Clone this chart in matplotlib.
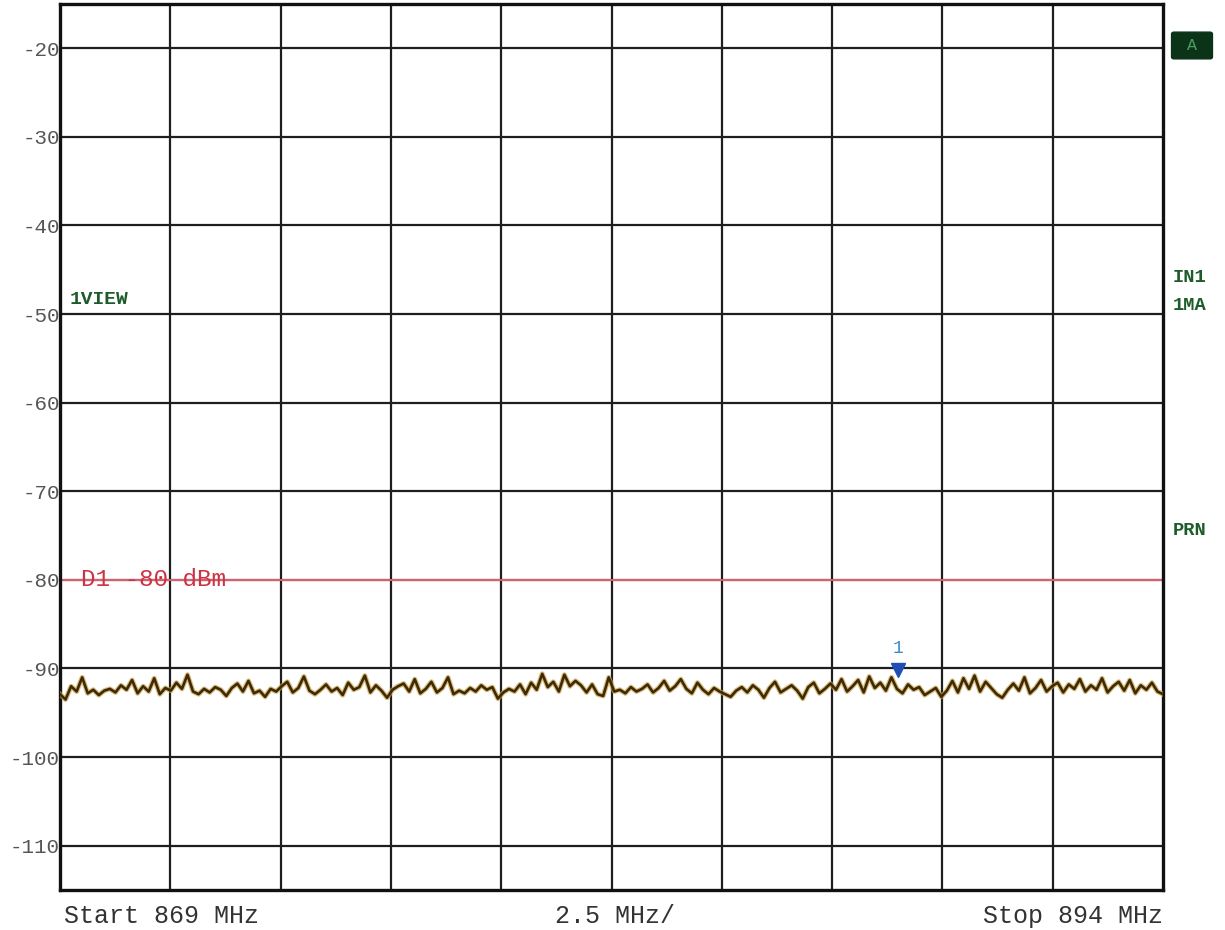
import matplotlib
matplotlib.use("Agg")
import matplotlib.pyplot as plt
import numpy as np
from matplotlib.patches import FancyBboxPatch

# ---- data ----
start_mhz = 869.0
stop_mhz = 894.0
y_ticks = [-20, -30, -40, -50, -60, -70, -80, -90, -100, -110]
ref_top = -15
ref_bottom = -115
display_line_dbm = -80
display_line_label = "D1 -80 dBm"
marker_freq = [888.0]
marker_level = [-90.2]
marker_label = "1"

trace = [
    -92.9, -93.5, -92.0, -92.6, -91.0, -92.8, -92.4, -93.0, -92.5, -92.3, -92.7, -91.9, -92.4, -91.3, -92.8, -92.0, -92.6, -91.1, -92.9, -92.2,
    -92.5, -91.6, -92.3, -90.7, -92.6, -92.9, -92.3, -92.7, -92.1, -92.4, -93.1, -92.2, -91.7, -92.6, -91.4, -92.8, -92.5, -93.2, -92.3, -92.6,
    -92.0, -91.5, -92.7, -92.2, -90.9, -92.5, -92.9, -92.4, -91.8, -92.6, -92.2, -93.0, -91.6, -92.4, -92.1, -90.8, -92.7, -91.9, -92.5, -93.3,
    -92.4, -92.0, -91.7, -92.6, -91.2, -92.8, -92.3, -91.5, -92.7, -92.2, -91.0, -92.9, -92.5, -92.8, -92.2, -92.6, -91.9, -92.4, -92.1, -93.4,
    -92.7, -92.3, -92.6, -91.8, -92.9, -91.6, -92.4, -90.6, -92.1, -91.5, -92.6, -90.7, -92.0, -91.4, -91.9, -92.7, -91.8, -92.9, -93.1, -91.0,
    -92.6, -92.4, -92.8, -92.1, -92.6, -92.3, -91.8, -92.7, -92.2, -91.4, -92.5, -92.0, -91.2, -92.3, -92.8, -91.6, -92.4, -92.9, -92.2, -92.6,
    -92.9, -93.2, -92.5, -92.1, -92.7, -91.9, -92.4, -93.3, -92.2, -91.5, -92.7, -92.3, -91.9, -92.5, -93.4, -92.1, -91.6, -92.8, -92.3, -91.7,
    -92.4, -91.2, -92.6, -92.0, -91.3, -92.7, -90.9, -92.2, -91.6, -92.5, -91.0, -92.3, -92.8, -91.8, -92.4, -92.1, -93.0, -92.6, -92.2, -93.2,
    -92.5, -91.4, -92.7, -91.1, -92.3, -90.8, -92.6, -91.5, -92.2, -92.9, -93.3, -92.4, -91.7, -92.5, -91.0, -92.8, -92.2, -91.3, -92.6, -92.0,
    -91.6, -92.7, -91.8, -92.3, -91.2, -92.6, -91.9, -92.4, -91.1, -92.7, -92.0, -91.5, -92.5, -91.3, -92.8, -91.9, -92.4, -91.6, -92.6, -92.9,
]
freqs = np.linspace(start_mhz, stop_mhz, len(trace))

# ---- figure ----
W, H = 1225, 930
fig = plt.figure(figsize=(W / 100, H / 100), dpi=100)
fig.patch.set_facecolor("white")
ax = fig.add_axes([60 / W, 1 - 890 / H, (1163 - 60) / W, (890 - 4) / H])
ax.set_xlim(start_mhz, stop_mhz)
ax.set_ylim(ref_bottom, ref_top)

mono = "Liberation Mono"
grid_col = "#1e1e1e"

# grid
for f in np.arange(start_mhz + 2.5, stop_mhz - 0.1, 2.5):
    ax.axvline(f, color=grid_col, lw=1.6, zorder=1)
for y in y_ticks:
    ax.axhline(y, color=grid_col, lw=1.6, zorder=1)

for s in ax.spines.values():
    s.set_linewidth(2.4)
    s.set_color("#111111")

ax.set_xticks([])
ax.set_yticks(y_ticks)
ax.set_yticklabels([str(v) for v in y_ticks], fontfamily=mono, fontsize=15, color="#555555")
ax.tick_params(axis="y", length=0, pad=0)

# display line
ax.axhline(display_line_dbm, color="#e06070", lw=1.4, zorder=2)
ax.text(0.019, display_line_dbm, display_line_label, transform=ax.get_yaxis_transform(),
        fontfamily=mono, fontsize=17.5, color="#cc3344", va="center", ha="left", zorder=3)

# trace
ax.plot(freqs, trace, color="#c9a24a", lw=3.6, alpha=0.7, zorder=4)
ax.plot(freqs, trace, color="#3f2a05", lw=1.9, zorder=5)

# marker
ax.plot(marker_freq, marker_level, marker="v", color="#1f4fb5", markersize=10, ls="none", zorder=6)
ax.text(marker_freq[0], marker_level[0] + 1.5, marker_label, color="#3a8ad0", fontfamily=mono,
        fontsize=13, ha="center", va="bottom", zorder=6)

# in-plot label
ax.text(0.009, 0.667, "1VIEW", transform=ax.transAxes, fontfamily=mono, fontsize=14,
        fontweight="bold", color="#1d5c2a", va="center", ha="left")

# right labels
box = FancyBboxPatch((1174 / W, 1 - 57 / H), 36 / W, 23 / H, boxstyle="round,pad=0.002",
                     transform=fig.transFigure, facecolor="#0b3318", edgecolor="#0b3318")
fig.patches.append(box)
fig.text(1192 / W, 1 - 45.5 / H, "A", fontfamily=mono, fontsize=12, color="#4aa060",
         ha="center", va="center")
for txt, yp in [("IN1", 277), ("1MA", 305), ("PRN", 530)]:
    fig.text(1173 / W, 1 - yp / H, txt, fontfamily=mono, fontsize=13.5, fontweight="bold",
             color="#1d5c2a", ha="left", va="center")

# bottom labels
fig.text(64 / W, 1 - 916 / H, "Start 869 MHz", fontfamily=mono, fontsize=18, color="#333333",
         ha="left", va="center")
fig.text(555 / W, 1 - 916 / H, "2.5 MHz/", fontfamily=mono, fontsize=18, color="#333333",
         ha="left", va="center")
fig.text(1163 / W, 1 - 916 / H, "Stop 894 MHz", fontfamily=mono, fontsize=18, color="#333333",
         ha="right", va="center")

fig.savefig("out.png", dpi=100, facecolor="white")
